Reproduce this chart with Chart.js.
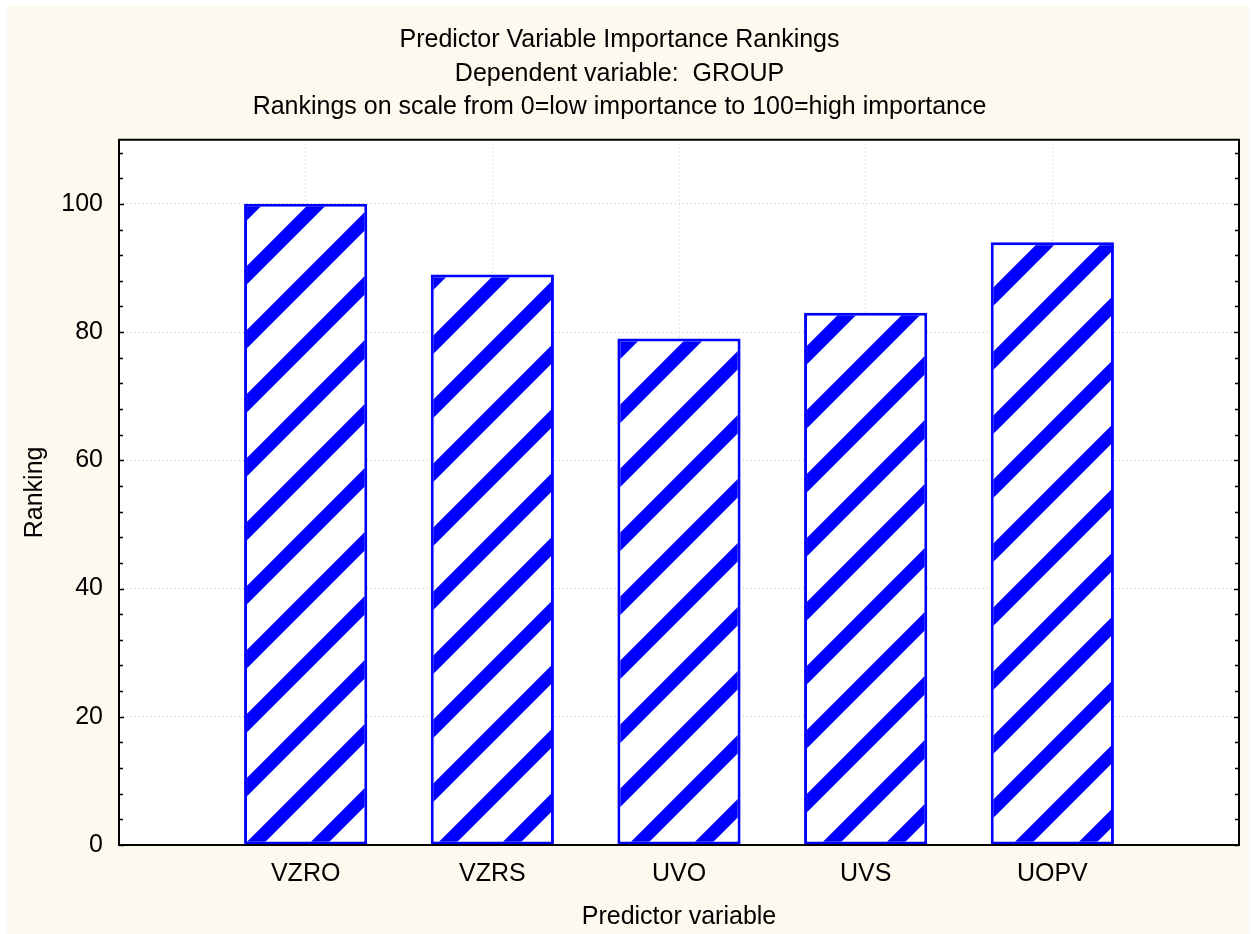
<!DOCTYPE html>
<html>
<head>
<meta charset="utf-8">
<script src="https://cdn.jsdelivr.net/npm/chart.js@4/dist/chart.umd.min.js"></script>
<style>
html,body{margin:0;padding:0;background:#ffffff;}
#wrap{position:absolute;left:0;top:0;width:1254px;height:934px;}
</style>
</head>
<body>
<div id="wrap"><canvas id="c" width="1254" height="934"></canvas></div>
<script>
// ---- data ----
const categories = ['VZRO', 'VZRS', 'UVO', 'UVS', 'UOPV'];
const rankings = [100, 89, 79, 83, 94];
const yTickValues = [0, 20, 40, 60, 80, 100];
const titleLines = [
  'Predictor Variable Importance Rankings',
  'Dependent variable:  GROUP',
  'Rankings on scale from 0=low importance to 100=high importance'
];
const xTitle = 'Predictor variable';
const yTitle = 'Ranking';

// ---- hatch pattern ----
function makeHatch() {
  const P = 64;
  const c = document.createElement('canvas');
  c.width = P; c.height = P;
  const g = c.getContext('2d');
  g.fillStyle = '#ffffff';
  g.fillRect(0, 0, P, P);
  g.strokeStyle = '#0000ff';
  g.lineWidth = 13;
  [-56, 10, 74, 138].forEach(k => {
    g.beginPath();
    g.moveTo(k + 30, -30);
    g.lineTo(-30, k + 30);
    g.stroke();
  });
  return g.createPattern(c, 'repeat');
}
const ctx = document.getElementById('c').getContext('2d');
const hatch = makeHatch();

const FONT = "'Liberation Sans', Arial, sans-serif";
Chart.defaults.font.family = FONT;
Chart.defaults.color = '#000';

const frame = {
  id: 'frame',
  beforeDraw(chart) {
    const g = chart.ctx;
    g.save();
    g.fillStyle = '#ffffff';
    g.fillRect(0, 0, chart.width, chart.height);
    g.fillStyle = '#fdf9ee';
    g.fillRect(7, 6, chart.width - 12, chart.height - 6);
    const a = chart.chartArea;
    g.fillStyle = '#ffffff';
    g.fillRect(a.left, a.top, a.right - a.left, a.bottom - a.top);
    g.restore();
  },
  afterDraw(chart) {
    const g = chart.ctx, a = chart.chartArea, ys = chart.scales.y;
    g.save();
    g.strokeStyle = '#000';
    g.lineWidth = 1.5;
    for (let v = 0; v <= ys.max; v += 4) {
      const p = Math.round(ys.getPixelForValue(v)) + 0.5;
      const len = (v % 20 === 0) ? 5 : 4;
      g.beginPath();
      g.moveTo(a.left, p); g.lineTo(a.left + len, p);
      g.moveTo(a.right, p); g.lineTo(a.right - len, p);
      g.stroke();
    }
    g.lineWidth = 2;
    g.strokeRect(a.left, a.top, a.right - a.left, a.bottom - a.top);
    g.restore();
  }
};

new Chart(ctx, {
  type: 'bar',
  data: {
    datasets: [{
      data: categories.map((c, i) => ({ x: i + 1, y: rankings[i] })),
      backgroundColor: hatch,
      borderColor: '#0000ff',
      borderWidth: 3,
      borderSkipped: false,
      categoryPercentage: 1,
      barPercentage: 0.66
    }]
  },
  options: {
    responsive: false,
    animation: false,
    events: [],
    layout: { padding: { left: 0, right: 15, top: 0, bottom: 0 } },
    plugins: {
      legend: { display: false },
      tooltip: { enabled: false },
      title: {
        display: true,
        text: titleLines,
        color: '#000',
        font: { size: 25, weight: 'normal', lineHeight: 1.35 },
        padding: { top: 23, bottom: 15.5 }
      }
    },
    scales: {
      x: {
        type: 'linear',
        offset: false,
        min: 0, max: 6,
        afterBuildTicks(s) { s.ticks = categories.map((c, i) => ({ value: i + 1 })); },
        afterFit(s) { s.height = 89; },
        ticks: {
          callback: v => categories[v - 1] || '',
          font: { size: 25 }, color: '#000', padding: 14, maxRotation: 0, autoSkip: false
        },
        grid: { offset: false, color: '#c8c8c8', lineWidth: 1, drawTicks: false },
        border: { display: false, dash: [1, 3] },
        title: { display: true, text: xTitle, font: { size: 25 }, color: '#000', padding: { top: 2, bottom: 2 } }
      },
      y: {
        type: 'linear',
        min: 0, max: 110,
        afterBuildTicks(s) { s.ticks = yTickValues.map(v => ({ value: v })); },
        afterFit(s) { s.width = 119; },
        ticks: { font: { size: 25 }, color: '#000', padding: 16 },
        grid: { color: '#c8c8c8', lineWidth: 1, drawTicks: false },
        border: { display: false, dash: [1, 3] },
        title: { display: true, text: yTitle, font: { size: 25 }, color: '#000', padding: { top: 20, bottom: 0 } }
      }
    }
  },
  plugins: [frame]
});
</script>
</body>
</html>
